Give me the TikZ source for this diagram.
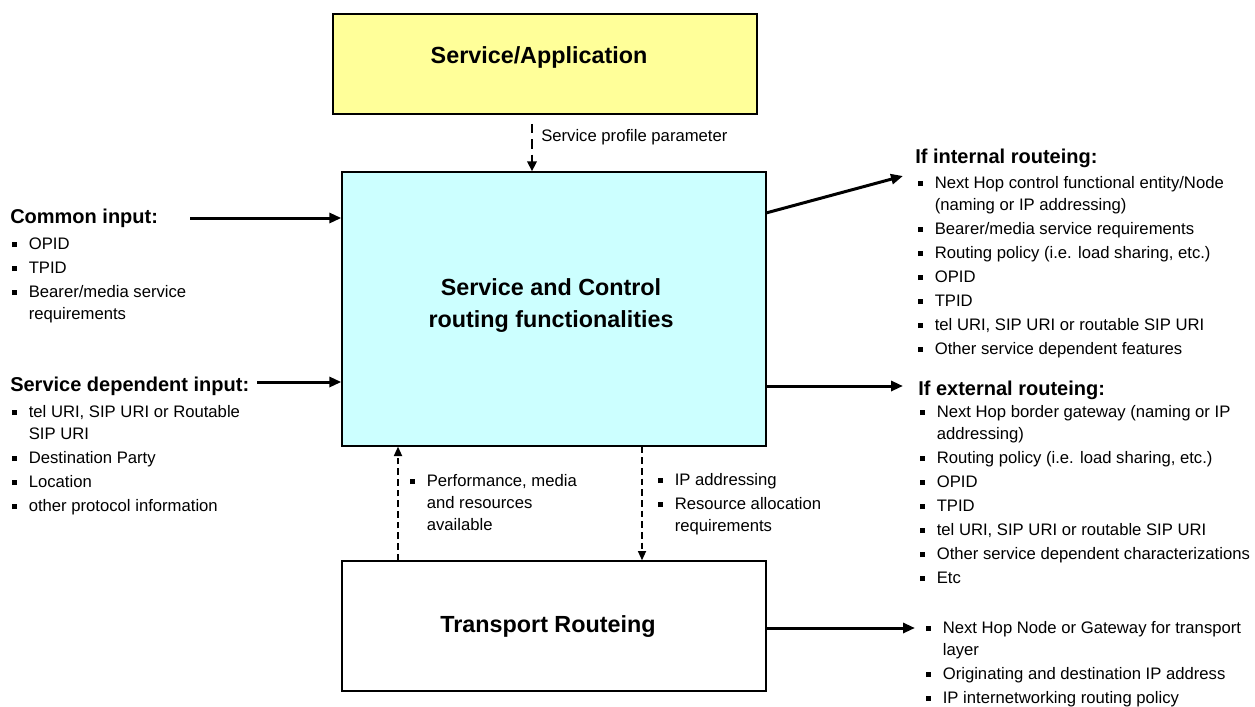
\documentclass[tikz,border=0pt]{standalone}
\usepackage{fontspec}
\setmainfont{Liberation Sans}
\usetikzlibrary{arrows.meta,calc}
\definecolor{ylw}{HTML}{FFFF99}
\definecolor{cyn}{HTML}{CCFFFF}
\newcommand\bul{\makebox[12.4pt][l]{\raisebox{1.6pt}{\rule{3.75pt}{3.75pt}}}}
\newcommand\cnt{\hspace*{12.4pt}}
\newcommand\fst{\rule{0pt}{12pt}}
\begin{document}
\begin{tikzpicture}[x=0.75pt,y=-0.75pt,
 box/.style={draw=black,line width=1pt,minimum width=318pt,inner sep=0pt},
 boxtitle/.style={font=\fontsize{17.5}{24}\selectfont\bfseries,align=center,inner sep=0pt},
 grouptitle/.style={font=\fontsize{15}{18}\selectfont\bfseries,anchor=base west,inner sep=0pt},
 itemlist/.style={font=\fontsize{12.5}{16.5}\selectfont,anchor=north west,align=left,inner sep=0pt},
 plainlabel/.style={font=\fontsize{12.5}{16.5}\selectfont,anchor=base west,inner sep=0pt},
 heavyarrow/.style={line width=2.25pt,-{Triangle[length=9pt,width=7.5pt]}},
 dasharrow/.style={line width=1.25pt,dash pattern=on 5pt off 3pt,-{Triangle[length=7pt,width=6pt]}},
 topdash/.style={line width=2pt,dash pattern=on 7pt off 4.5pt,-{Triangle[length=7.5pt,width=7pt]}},
]
\useasboundingbox (0,0) rectangle (1255,706);

% boxes
\node[box,fill=ylw,minimum height=75pt] (sa) at (545,64) {};
\node[boxtitle] (satxt) at (539,57) {Service/Application};
\node[box,fill=cyn,minimum height=205.5pt] (sc) at (554,309) {};
\node[boxtitle] (sctxt) at (551,306) {Service and Control\\routing functionalities};
\node[box,fill=white,minimum height=97.5pt] (tr) at (554,626) {};
\node[boxtitle] (trtxt) at (548,627) {Transport Routeing};

% top connector
\coordinate (sp) at (532,124);
\draw[topdash] (sp) -- (sp |- sc.north);
\node[plainlabel] (splbl) at (541,142) {Service profile parameter};

% left inputs
\node[grouptitle] (ci) at (10,223) {Common input:};
\node[itemlist] (cil) at (12,233) {\fst\bul OPID\\[1.5pt]\bul TPID\\[1.5pt]\bul Bearer/media service\\\cnt requirements};
\coordinate (cia) at (190,218);
\draw[heavyarrow] (cia) -- (cia -| sc.west);

\node[grouptitle] (sd) at (10,391) {Service dependent input:};
\node[itemlist] (sdl) at (12,401) {\fst\bul tel URI, SIP URI or Routable\\\cnt SIP URI\\[1.5pt]\bul Destination Party\\[1.5pt]\bul Location\\[1.5pt]\bul other protocol information};
\coordinate (sda) at (257,382);
\draw[heavyarrow] (sda) -- (sda -| sc.west);

% right outputs
\node[grouptitle] (it) at (915,164) {If internal routeing:};
\node[itemlist] (itl) at (918,172) {\fst\bul Next Hop control functional entity/Node\\\cnt (naming or IP addressing)\\[1.5pt]\bul Bearer/media service requirements\\[1.5pt]\bul Routing policy (i.e. load sharing, etc.)\\[1.5pt]\bul OPID\\[1.5pt]\bul TPID\\[1.5pt]\bul tel URI, SIP URI or routable SIP URI\\[1.5pt]\bul Other service dependent features};
\coordinate (its) at (766,213);
\coordinate (ite) at (903,176);
\draw[heavyarrow] (its) -- (ite);

\node[grouptitle] (xt) at (918,395) {If external routeing:};
\node[itemlist] (xtl) at (920,401) {\fst\bul Next Hop border gateway (naming or IP\\\cnt addressing)\\[1.5pt]\bul Routing policy (i.e. load sharing, etc.)\\[1.5pt]\bul OPID\\[1.5pt]\bul TPID\\[1.5pt]\bul tel URI, SIP URI or routable SIP URI\\[1.5pt]\bul Other service dependent characterizations\\[1.5pt]\bul Etc};
\coordinate (xte) at (903,386);
\draw[heavyarrow] (xte -| sc.east) -- (xte);

\node[itemlist] (trl) at (926,617) {\fst\bul Next Hop Node or Gateway for transport\\\cnt layer\\[1.5pt]\bul Originating and destination IP address\\[1.5pt]\bul IP internetworking routing policy};
\coordinate (tre) at (915,628);
\draw[heavyarrow] (tre -| tr.east) -- (tre);

% bottom connectors
\coordinate (up) at (398,500);
\draw[dasharrow] (up |- tr.north) -- (up |- sc.south);
\node[itemlist] (upl) at (410,470) {\fst\bul Performance, media\\\cnt and resources\\\cnt available};
\coordinate (dn) at (642,500);
\draw[dasharrow] (dn |- sc.south) -- (dn |- tr.north);
\node[itemlist] (dnl) at (658,469) {\fst\bul IP addressing\\[1.5pt]\bul Resource allocation\\\cnt requirements};
\end{tikzpicture}
\end{document}
